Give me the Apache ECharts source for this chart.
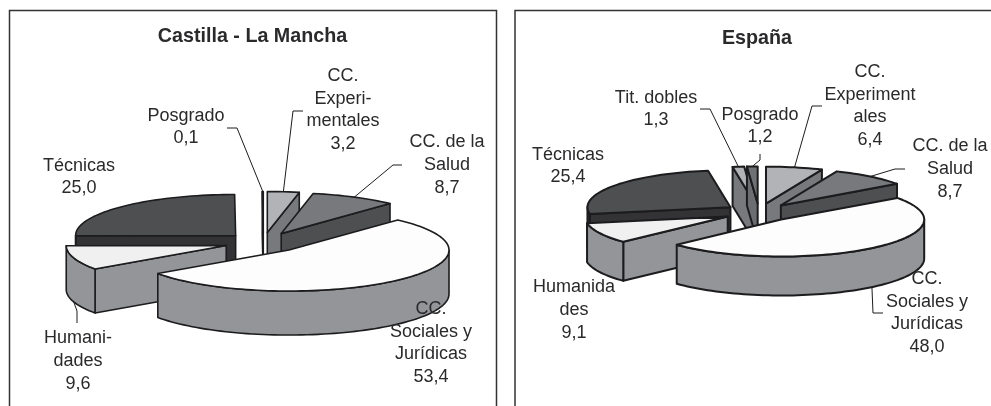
<!DOCTYPE html>
<html><head><meta charset="utf-8">
<style>html,body{margin:0;padding:0;background:#fff}#c{width:991px;height:406px}</style>
<script src="https://cdn.jsdelivr.net/npm/echarts@6/dist/echarts.min.js"></script>
</head><body><div id="c"></div>
<script>
// ---------- data ----------
const categoriesCLM = ['CC. Experimentales','CC. de la Salud','CC. Sociales y Jurídicas','Humanidades','Técnicas','Posgrado'];
const valuesCLM     = [3.2, 8.7, 53.4, 9.6, 25.0, 0.1];
const labelsCLM     = ['CC.\nExperi-\nmentales','CC. de la\nSalud','CC.\nSociales y\nJurídicas','Humani-\ndades','Técnicas','Posgrado'];
const categoriesES  = ['CC. Experimentales','CC. de la Salud','CC. Sociales y Jurídicas','Humanidades','Técnicas','Tit. dobles','Posgrado'];
const valuesES      = [6.4, 8.7, 48.0, 9.1, 25.4, 1.3, 1.2];
const labelsES      = ['CC.\nExperiment\nales','CC. de la\nSalud','CC.\nSociales y\nJurídicas','Humanida\ndes','Técnicas','Tit. dobles','Posgrado'];

// ---------- styles and layout ----------
const fmt = v => v.toFixed(1).replace('.', ',');
const INK = '#1c1c1e', FONT = '"Liberation Sans", Arial, sans-serif';
const SHADES = {
  'CC. Experimentales':      ['#b1b3b6', '#77797c'],
  'CC. de la Salud':         ['#77797c', '#4d4f51'],
  'CC. Sociales y Jurídicas':['#fdfdfd', '#939598'],
  'Humanidades':             ['#f0f0f1', '#939598'],
  'Técnicas':                ['#4d4f51', '#333335'],
  'Tit. dobles':             ['#b1b3b6', '#77797c'],
  'Posgrado':                ['#6f7174', '#6b6d70']
};
const layoutCLM = {
  cx: 263.4, cy: 242.5, rx: 160, ry: 41, depth: 44, explode: 39, lw: 1.6,
  text: [[343,110],[447,165],[431,343],[78,361],[79,177],[186,127]],
  leaders: [
    {pts:[[293,111],[303,111]]},
    {pts:[[393,165],[402,165]]},
    null,
    {bottom:true, pts:[[77,311],[77,323]]},
    null,
    {pts:[[237,128],[227,128]]}
  ]
};
const layoutES = {
  cx: 759, cy: 212.5, rx: 143, ry: 37, depth: 39, explode: 35, lw: 2,
  text: [[870,106],[950,169],[927,313],[574,310],[568,166],[656,109],[760,126]],
  leaders: [
    {pts:[[812,106],[822,106]]},
    {pts:[[895,169],[905,169]]},
    {bottom:true, pts:[[873,313],[883,313]]},
    null,
    null,
    {pts:[[710,109],[700,109]]},
    {pts:[[760,160],[760,154]]}
  ]
};

// ---------- geometry derived from the values ----------
function buildSlices(cats, vals, lay) {
  const total = vals.reduce((a, b) => a + b, 0);
  let acc = 0;
  return vals.map((v, i) => {
    const a0 = acc / total * 360; acc += v;
    const a1 = acc / total * 360;
    const mid = (a0 + a1) / 2 * Math.PI / 180;
    return {
      i, name: cats[i], value: v, a0, a1,
      x: lay.cx + lay.explode * Math.sin(mid),
      y: lay.cy - lay.explode * Math.cos(mid) * lay.ry / lay.rx,
      back: Math.round(Math.cos(mid) * 10) / 10
    };
  });
}
function rim(s, lay, deg, dz) {
  const t = deg * Math.PI / 180;
  return [s.x + lay.rx * Math.sin(t), s.y - lay.ry * Math.cos(t) + (dz || 0)];
}
function arcPts(s, lay, from, to, dz) {
  const pts = [], n = Math.max(2, Math.ceil((to - from) / 2));
  for (let k = 0; k <= n; k++) pts.push(rim(s, lay, from + (to - from) * k / n, dz));
  return pts;
}
function sliceShapes(s, lay) {
  const [top, side] = SHADES[s.name], d = lay.depth;
  const style = f => ({fill: f, stroke: INK, lineWidth: lay.lw, lineJoin: 'round'});
  const poly = (pts, f) => ({type: 'polygon', shape: {points: pts}, style: style(f), silent: true});
  const out = [];
  const radial = deg => {
    const p = rim(s, lay, deg);
    return poly([[s.x, s.y], p, [p[0], p[1] + d], [s.x, s.y + d]], side);
  };
  if (Math.sin(s.a0 * Math.PI / 180) < 0) out.push(radial(s.a0));
  if (Math.sin(s.a1 * Math.PI / 180) > 0) out.push(radial(s.a1));
  const f0 = Math.max(s.a0, 90), f1 = Math.min(s.a1, 270);
  if (f1 > f0) out.push(poly(arcPts(s, lay, f0, f1, 0).concat(arcPts(s, lay, f0, f1, d).reverse()), side));
  out.push(poly([[s.x, s.y]].concat(arcPts(s, lay, s.a0, s.a1, 0)), top));
  return out;
}
function pieSeries(cats, vals, labels, lay) {
  const slices = buildSlices(cats, vals, lay);
  const drawOrder = slices.slice().sort((a, b) => b.back - a.back);
  return [
    {
      type: 'custom', coordinateSystem: 'none', animation: false, silent: true, z: 2,
      data: drawOrder.map(s => ({name: s.name, value: [s.i, s.value]})),
      renderItem(params, api) {
        const s = slices[api.value(0)];
        return {type: 'group', children: sliceShapes(s, lay)};
      }
    },
    {
      type: 'custom', coordinateSystem: 'none', animation: false, silent: true, z: 3,
      data: slices.map(s => ({name: s.name, value: [s.i, s.value]})),
      renderItem(params, api) {
        const s = slices[api.value(0)], kids = [];
        const l = lay.leaders[s.i];
        if (l) {
          const anchor = rim(s, lay, (s.a0 + s.a1) / 2, l.bottom ? lay.depth : 0);
          kids.push({type: 'polyline', shape: {points: [anchor].concat(l.pts)},
            style: {fill: 'none', stroke: INK, lineWidth: 1}, silent: true});
        }
        const [tx, ty] = lay.text[s.i];
        kids.push({type: 'text', silent: true, style: {
          text: labels[s.i] + '\n' + fmt(s.value), x: tx, y: ty,
          align: 'center', verticalAlign: 'middle',
          font: '18px ' + FONT, lineHeight: 22.8, fill: '#2a2a2c'
        }});
        return {type: 'group', children: kids};
      }
    }
  ];
}

const frame = (x, w) => ({type: 'rect', silent: true, z: 0,
  shape: {x, y: 10.5, width: w, height: 430},
  style: {fill: '#fff', stroke: '#333335', lineWidth: 1.5}});

const chart = echarts.init(document.getElementById('c'), null, {renderer: 'canvas'});
chart.setOption({
  animation: false,
  backgroundColor: '#fff',
  title: [
    {text: 'Castilla - La Mancha', left: 247.5, top: 22, textAlign: 'center',
     textStyle: {fontFamily: FONT, fontWeight: 'bold', fontSize: 19.7, color: '#2a2a2c'}},
    {text: 'España', left: 752, top: 24, textAlign: 'center',
     textStyle: {fontFamily: FONT, fontWeight: 'bold', fontSize: 19.7, color: '#2a2a2c'}}
  ],
  graphic: [frame(9.5, 487), frame(515, 520)],
  series: pieSeries(categoriesCLM, valuesCLM, labelsCLM, layoutCLM)
    .concat(pieSeries(categoriesES, valuesES, labelsES, layoutES))
});
</script></body></html>
